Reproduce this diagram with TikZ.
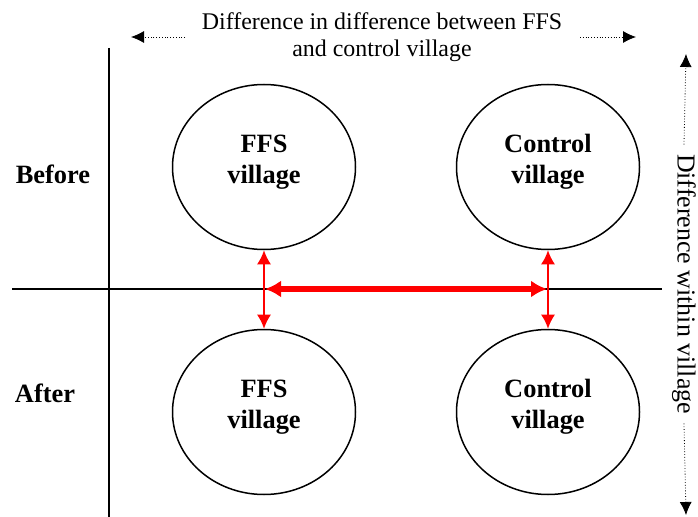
\documentclass[tikz,border=0pt]{standalone}
\usepackage{fontspec}
\setmainfont{Liberation Serif}
\usetikzlibrary{positioning,shapes.geometric,arrows.meta}

\begin{document}
\begin{tikzpicture}[
x=1bp,y=-1bp,
village/.style={
  draw,
  ellipse,
  line width=1.5bp,
  minimum width=183bp,
  minimum height=165bp
  },
vname/.style={
  align=center,
  font=\fontsize{26.5}{31}\selectfont\bfseries
  },
period/.style={
  font=\fontsize{26.5}{31}\selectfont\bfseries
  },
note/.style={
  font=\fontsize{24}{27}\selectfont,
  align=center
  },
change/.style={
  draw=red,
  line width=1.8bp,
  {Latex[length=14bp,width=14bp]}-{Latex[length=14bp,width=14bp]}
  },
gap/.style={
  dotted,
  line width=0.8bp,
  -{Latex[length=13bp,width=12bp]}
  },
>=latex
]
\useasboundingbox (0,0) rectangle (698,517);
% axes
\coordinate (xl) at (12,289);
\coordinate (xr) at (662,289);
\coordinate (yt) at (109,48);
\coordinate (yb) at (109,517);
\draw[line width=1.5bp] (xl) -- (xr);
\draw[line width=1.5bp] (yt) -- (yb);
% villages
\node[village] (ffsb) at (264,167) {};
\node[village] (ctlb) at (548,167) {};
\node[village] (ffsa) at (264,412) {};
\node[village] (ctla) at (548,412) {};
\node[vname] (ffsbt) at ([yshift=5bp]ffsb.center) {FFS\\village};
\node[vname] (ctlbt) at ([yshift=5bp]ctlb.center) {Control\\village};
\node[vname] (ffsat) at ([yshift=5bp]ffsa.center) {FFS\\village};
\node[vname] (ctlat) at ([yshift=5bp]ctla.center) {Control\\village};
\node[period] (before) at (53,174) {Before};
\node[period] (after) at (45,393) {After};
% changes
\draw[change] (ffsb.south) -- (ffsa.north);
\draw[change] (ctlb.south) -- (ctla.north);
\coordinate (dl) at (265,289);
\coordinate (dr) at (547,289);
\draw[change,line width=5.5bp,{Latex[length=16bp,width=17bp]}-{Latex[length=16bp,width=17bp]}] (dl) -- (dr);
% difference in difference
\node[note] (did) at (382,37) {Difference in difference between FFS\\and control village};
\coordinate (gl) at (131,37);
\coordinate (gr) at (636,37);
\coordinate (gls) at (185,37);
\coordinate (grs) at (580,37);
\draw[gap] (gls) -- (gl);
\draw[gap] (grs) -- (gr);
% difference within village
\node[note,font=\fontsize{26}{30}\selectfont,rotate=-90] (within) at (684,284) {Difference within village};
\coordinate (wt) at (686,54);
\coordinate (wb) at (686,515);
\draw[gap] ([yshift=6bp]within.west) -- (wt);
\draw[gap] ([yshift=-6bp]within.east) -- (wb);
\end{tikzpicture}
\end{document}
